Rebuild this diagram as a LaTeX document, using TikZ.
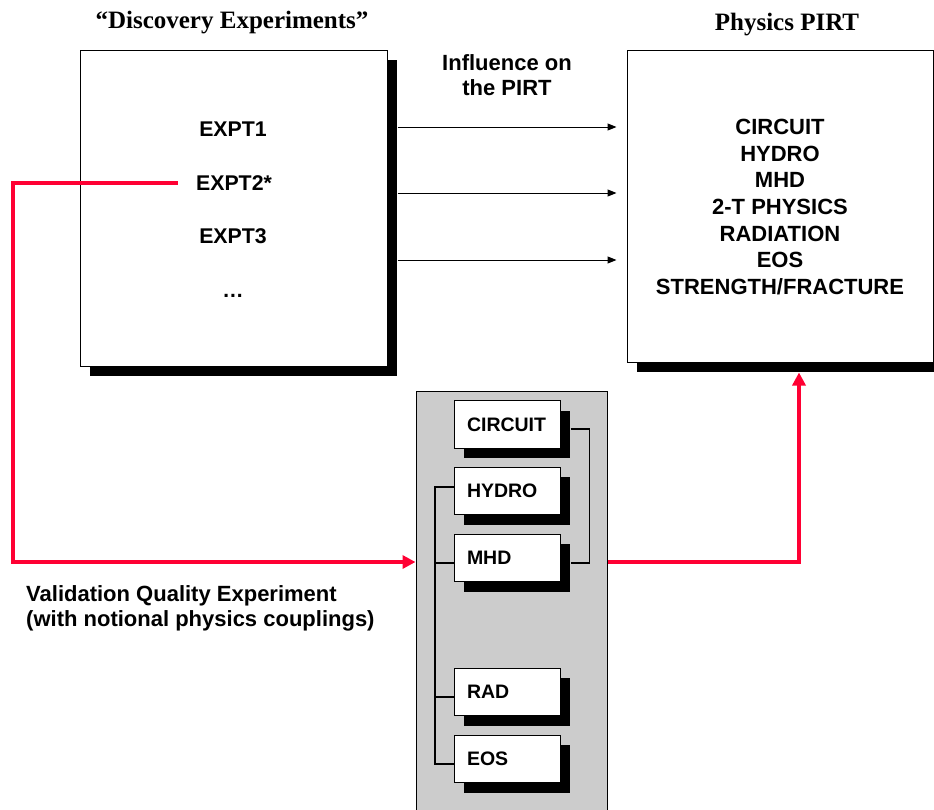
\documentclass[tikz,border=0pt]{standalone}
\usepackage{fontspec}
\setmainfont{Liberation Sans}
\newfontfamily\seriffont{Liberation Serif}
\usetikzlibrary{arrows.meta,shadows}
\definecolor{vred}{RGB}{255,0,51}
\definecolor{panelgray}{RGB}{204,204,204}
\begin{document}
\begin{tikzpicture}[x=1pt,y=-1pt,
  shadowbox/.style={draw=black,line width=1pt,fill=white,inner sep=0pt,
    drop shadow={shadow xshift=10pt,shadow yshift=-10pt,fill=black,opacity=1}},
  smallbox/.style={shadowbox,text width=80pt,align=left,inner xsep=13pt,inner ysep=0pt,
    minimum height=47.5pt,font=\fontsize{19.5}{23}\selectfont\bfseries},
  titletext/.style={font=\seriffont\fontsize{25}{30}\selectfont\bfseries,anchor=base,inner sep=0pt},
  bigtext/.style={font=\fontsize{22}{26.6}\selectfont\bfseries,inner sep=0pt},
  expttext/.style={font=\fontsize{21.3}{26}\selectfont\bfseries,inner sep=0pt,anchor=base},
  conn/.style={draw=black,line width=1.3pt},
  thinarrow/.style={draw=black,line width=1pt,-{Triangle[length=9pt,width=7pt]}},
  redline/.style={draw=vred,line width=4pt,-{Triangle[length=13pt,width=13pt]}}]
\useasboundingbox (0,0) rectangle (934,809);
\clip (0,0) rectangle (934,809);

% titles
\node[titletext] (t1) at (232,28) {“Discovery Experiments”};
\node[titletext] (t2) at (787,30) {Physics PIRT};

% big boxes
\node[shadowbox,minimum width=307pt,minimum height=316pt] (expbox) at (233.5,208) {};
\node[shadowbox,minimum width=306pt,minimum height=312pt] (pirt) at (780,206) {};

\node[expttext] (e1) at (233,136) {EXPT1};
\node[expttext] (e2) at (234,190) {EXPT2*};
\node[expttext] (e3) at (233,243.5) {EXPT3};
\node[expttext] (e4) at (233,297) {…};

\node[bigtext,align=center] (plist) at (780,207) {CIRCUIT\\HYDRO\\MHD\\2-T PHYSICS\\RADIATION\\EOS\\STRENGTH/FRACTURE};

\node[bigtext,align=center,font=\fontsize{22}{25}\selectfont\bfseries] (infl) at (507,75.5) {Influence on\\the PIRT};

% influence arrows
\coordinate (sr) at ([xshift=10pt]expbox.east);
\foreach \yy in {127,193,260}{
  \draw[thinarrow,shorten >=10pt] (sr |- 0,\yy) -- (pirt.west |- 0,\yy);
}

% panel
\node[draw=black,line width=1pt,fill=panelgray,minimum width=191pt,minimum height=425pt,inner sep=0pt] (panel) at (511.5,603.5) {};

\node[smallbox] (circ) at (507,424.5) {CIRCUIT};
\node[smallbox] (hydro) at (507,491) {HYDRO};
\node[smallbox] (mhd) at (507,558) {MHD};
\node[smallbox] (rad) at (507,692) {RAD};
\node[smallbox] (eos) at (507,759) {EOS};

% couplings
\draw[conn] ([shift={(10,4.5)}]circ.east) -- ++(19,0) |- ([shift={(10,5)}]mhd.east);
\coordinate (bus) at (435,0);
\coordinate (hy) at ([yshift=4pt]hydro.west);
\coordinate (mh) at ([yshift=-5pt]mhd.west);
\coordinate (ra) at ([yshift=-5pt]rad.west);
\coordinate (eo) at ([yshift=-5pt]eos.west);
\draw[conn] (hy) -| (bus |- eo) -- (eo);
\draw[conn] (bus |- mh) -- (mh);
\draw[conn] (bus |- ra) -- (ra);

% red paths
\coordinate (rc) at (13,562);
\draw[redline] ([xshift=-18pt]e2.west) -| (rc) -- (panel.west |- rc);
\coordinate (rc2) at (799,562);
\coordinate (pb) at ([yshift=-10pt]pirt.south);
\draw[redline] (panel.east |- rc2) -| (pb -| rc2);

% validation label
\node[bigtext,align=left,anchor=west,font=\fontsize{22}{25}\selectfont\bfseries] (val) at (26,608) {Validation Quality Experiment\\(with notional physics couplings)};
\end{tikzpicture}
\end{document}
